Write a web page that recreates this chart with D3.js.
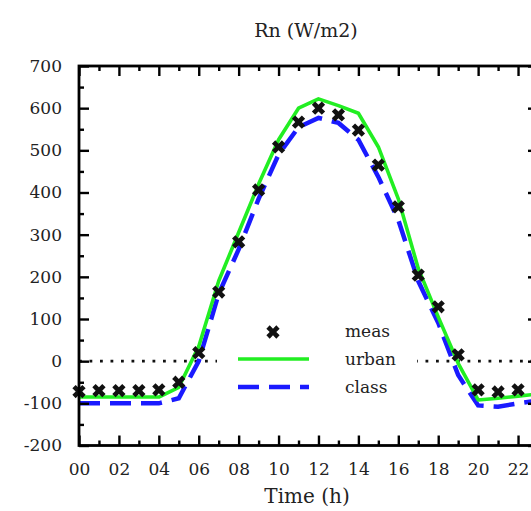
<!DOCTYPE html>
<html>
<head>
<meta charset="utf-8">
<script src="https://cdn.jsdelivr.net/npm/d3@7"></script>
<style>
  body { margin: 0; background: #fff; }
  svg { display: block; }
  text { font-family: "DejaVu Serif", serif; fill: #222; }
</style>
</head>
<body>
<script>
// Net radiation over a day: measurements vs. two model runs
const hours = d3.range(0, 24);
const meas   = [-72, -70, -70, -70, -68, -50, 20, 164, 283, 406, 508, 567, 600, 584, 548, 465, 366, 204, 129, 15, -68, -73, -68, -68];
const urban  = [-85, -85, -85, -85, -85, -62, 35, 190, 305, 420, 525, 600, 622, 606, 588, 508, 385, 220, 105, -5, -92, -88, -83, -78];
const classV = [-100, -100, -100, -100, -100, -88, 0, 160, 265, 385, 490, 555, 577, 565, 525, 437, 335, 190, 91, -33, -105, -108, -100, -93];
const xMajor = d3.range(0, 24, 2);
const xMinor = d3.range(1, 24, 2);
const yMajor = d3.range(-200, 701, 100);
const yMinor = d3.range(-150, 701, 100);
const legendItems = ["meas", "urban", "class"];

const W = 531, H = 511;
const svg = d3.select("body").append("svg").attr("width", W).attr("height", H);

const x = d3.scaleLinear().domain([0, 23]).range([79, 538]);
const y = d3.scaleLinear().domain([-200, 700]).range([445.5, 66]);

const green = "#22ee22", blue = "#1a1aff";

// zero reference line
svg.append("line")
  .attr("x1", x(0)).attr("x2", x(23))
  .attr("y1", y(0)).attr("y2", y(0))
  .attr("stroke", "#111").attr("stroke-width", 2.8)
  .attr("stroke-dasharray", "2.8,7.7");

// legend (white box interrupts the zero line)
const lg = svg.append("g");
lg.append("rect").attr("x", 217).attr("y", 316).attr("width", 200).attr("height", 86).attr("fill", "#fff");
const cross = d3.symbol().type(d3.symbolCross).size(110);
lg.append("path").attr("d", cross).attr("fill", "#111")
  .attr("transform", "translate(273,332) rotate(45)");
lg.append("line").attr("x1", 238).attr("x2", 309).attr("y1", 359).attr("y2", 359)
  .attr("stroke", green).attr("stroke-width", 3.6);
lg.append("line").attr("x1", 238).attr("x2", 309).attr("y1", 387).attr("y2", 387)
  .attr("stroke", blue).attr("stroke-width", 4.5).attr("stroke-dasharray", "21,10");
lg.selectAll("text.lab").data(legendItems).join("text").attr("class", "lab")
  .attr("x", 345).attr("y", (d, i) => 337 + i * 28)
  .style("font-size", "17px").text(d => d);

// model lines
const line = d3.line().x((d, i) => x(hours[i])).y(d => y(d));
svg.append("path").datum(classV).attr("d", line)
  .attr("fill", "none").attr("stroke", blue).attr("stroke-width", 4.5)
  .attr("stroke-dasharray", "21,10");
svg.append("path").datum(urban).attr("d", line)
  .attr("fill", "none").attr("stroke", green).attr("stroke-width", 3.6)
  .attr("stroke-linejoin", "round");

// measurements
svg.selectAll("path.meas").data(meas).join("path").attr("class", "meas")
  .attr("d", cross).attr("fill", "#111")
  .attr("transform", (d, i) => `translate(${x(hours[i])},${y(d)}) rotate(45)`);

// axes with inward ticks
function styleAxis(g) {
  g.select(".domain").remove();
  g.selectAll(".tick line").attr("stroke", "#000").attr("stroke-width", 2.4);
  g.selectAll("text").style("font-size", "17px").attr("fill", "#222");
}
svg.append("g").attr("transform", `translate(0,${y(-200)})`)
  .call(d3.axisBottom(x).tickValues(xMajor).tickSize(-10).tickPadding(17)
    .tickFormat(d3.format("02d")))
  .call(styleAxis);
svg.append("g").attr("transform", `translate(0,${y(-200)})`)
  .call(d3.axisBottom(x).tickValues(xMinor).tickSize(-5).tickFormat(""))
  .call(styleAxis);
svg.append("g").attr("transform", `translate(0,${y(700)})`)
  .call(d3.axisTop(x).tickValues(xMajor).tickSize(-10).tickFormat(""))
  .call(styleAxis);
svg.append("g").attr("transform", `translate(0,${y(700)})`)
  .call(d3.axisTop(x).tickValues(xMinor).tickSize(-5).tickFormat(""))
  .call(styleAxis);
svg.append("g").attr("transform", `translate(${x(0)},0)`)
  .call(d3.axisLeft(y).tickValues(yMajor).tickSize(-10).tickPadding(17)
    .tickFormat(d => String(d)))
  .call(styleAxis);
svg.append("g").attr("transform", `translate(${x(0)},0)`)
  .call(d3.axisLeft(y).tickValues(yMinor).tickSize(-5).tickFormat(""))
  .call(styleAxis);
svg.append("g").attr("transform", `translate(${x(23)},0)`)
  .call(d3.axisRight(y).tickValues(yMajor).tickSize(-10).tickFormat(""))
  .call(styleAxis);
svg.append("g").attr("transform", `translate(${x(23)},0)`)
  .call(d3.axisRight(y).tickValues(yMinor).tickSize(-5).tickFormat(""))
  .call(styleAxis);

// frame
svg.append("rect")
  .attr("x", x(0)).attr("y", y(700))
  .attr("width", x(23) - x(0)).attr("height", y(-200) - y(700))
  .attr("fill", "none").attr("stroke", "#000").attr("stroke-width", 2.8);

// titles
svg.append("text").attr("x", 306).attr("y", 37).attr("text-anchor", "middle")
  .style("font-size", "19px").text("Rn (W/m2)");
svg.append("text").attr("x", 307).attr("y", 503).attr("text-anchor", "middle")
  .style("font-size", "20px").text("Time (h)");
</script>
</body>
</html>
